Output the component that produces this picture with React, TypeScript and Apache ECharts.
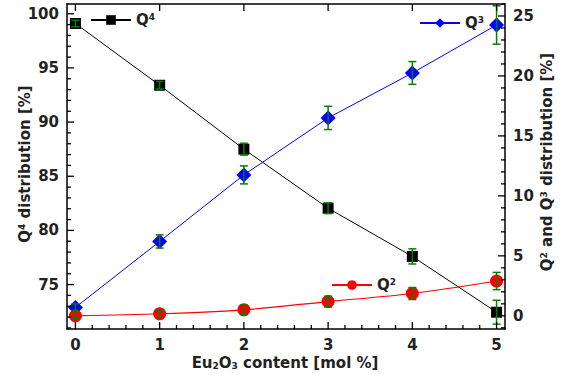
import React, { useEffect, useRef } from 'react';
import * as echarts from 'echarts';

const xValues = [0, 1, 2, 3, 4, 5];
const q4Values = [99.1, 93.4, 87.5, 82.05, 77.6, 72.45];
const q4Errors = [0.3, 0.35, 0.55, 0.5, 0.7, 1.1];
const q3Values = [0.7, 6.2, 11.75, 16.5, 20.25, 24.25];
const q3Errors = [0.3, 0.55, 0.75, 0.97, 0.95, 1.6];
const q2Values = [0.0, 0.17, 0.5, 1.19, 1.86, 2.9];
const q2Errors = [0.2, 0.3, 0.4, 0.45, 0.5, 0.72];

const xTickValues = [0, 1, 2, 3, 4, 5];
const xMinorTickValues = [0.2, 0.4, 0.6, 0.8, 1.2, 1.4, 1.6, 1.8, 2.2, 2.4, 2.6, 2.8, 3.2, 3.4, 3.6, 3.8, 4.2, 4.4, 4.6, 4.8];
const leftTickValues = [75, 80, 85, 90, 95, 100];
const leftMinorTickValues = [71, 72, 73, 74, 76, 77, 78, 79, 81, 82, 83, 84, 86, 87, 88, 89, 91, 92, 93, 94, 96, 97, 98, 99];
const rightTickValues = [0, 5, 10, 15, 20, 25];
const rightMinorTickValues = [-1, 1, 2, 3, 4, 6, 7, 8, 9, 11, 12, 13, 14, 16, 17, 18, 19, 21, 22, 23, 24, 26];

const FONT = 'DejaVu Sans';
const TXT = '#222';
const GREEN = '#008000';
const X_MIN = -0.1, X_MAX = 5.1;
const L_MIN = 70.9, L_MAX = 100.9;
const R_MIN = -1.1, R_MAX = 26;

const supRich = {
  s: { fontSize: 9, fontWeight: 'bold', fontFamily: FONT, color: TXT, padding: [0, 0, 7, 0] },
  b: { fontSize: 9, fontWeight: 'bold', fontFamily: FONT, color: TXT, padding: [6, 0, 0, 0] },
};

function errorSeries(name: string, values: number[], errors: number[], yAxisIndex: number) {
  return {
    type: 'custom',
    name: name + ' error',
    xAxisIndex: 0,
    yAxisIndex,
    z: 10,
    silent: true,
    data: xValues.map((x, i) => [x, values[i] - errors[i], values[i] + errors[i]]),
    encode: { x: 0, y: [1, 2] },
    renderItem: (params: any, api: any) => {
      const x = api.value(0);
      const lo = api.coord([x, api.value(1)]);
      const hi = api.coord([x, api.value(2)]);
      const w = 4;
      const style = { stroke: GREEN, lineWidth: 1.5, fill: 'none' };
      return {
        type: 'group',
        children: [
          { type: 'line', shape: { x1: lo[0], y1: lo[1], x2: hi[0], y2: hi[1] }, style },
          { type: 'line', shape: { x1: lo[0] - w, y1: lo[1], x2: lo[0] + w, y2: lo[1] }, style },
          { type: 'line', shape: { x1: hi[0] - w, y1: hi[1], x2: hi[0] + w, y2: hi[1] }, style },
        ],
      };
    },
  };
}

const titleGraphics = [
  {
    type: 'text', x: 25, y: 164, rotation: Math.PI / 2,
    style: {
      text: 'Q{s|4} distribution [%]', rich: supRich,
      fontFamily: FONT, fontWeight: 'bold', fontSize: 15, fill: TXT,
      align: 'center', verticalAlign: 'middle', textAlign: 'center', textVerticalAlign: 'middle',
    },
  },
  {
    type: 'text', x: 547, y: 162, rotation: Math.PI / 2,
    style: {
      text: 'Q{s|2} and Q{s|3} distribution [%]', rich: supRich,
      fontFamily: FONT, fontWeight: 'bold', fontSize: 15, fill: TXT,
      align: 'center', verticalAlign: 'middle', textAlign: 'center', textVerticalAlign: 'middle',
    },
  },
  {
    type: 'text', x: 285, y: 363,
    style: {
      text: 'Eu{b|2}O{b|3} content [mol %]', rich: supRich,
      fontFamily: FONT, fontWeight: 'bold', fontSize: 15, fill: TXT,
      align: 'center', verticalAlign: 'middle', textAlign: 'center', textVerticalAlign: 'middle',
    },
  },
];

export default function App() {
  const ref = useRef<HTMLDivElement>(null);
  useEffect(() => {
    if (!ref.current) return;
    const chart = echarts.init(ref.current, null, { renderer: 'svg' });
    const axLine = { show: true, onZero: false, lineStyle: { color: '#000', width: 1.5 } };
    const labelStyle = { fontFamily: FONT, fontWeight: 'bold', fontSize: 15, color: TXT };
    const legendBase = {
      padding: 0,
      itemWidth: 40,
      itemHeight: 12,
      selectedMode: false,
      formatter: (name: string) => `{q|Q}{s|${name.slice(1)}}`,
      textStyle: {
        fontFamily: FONT, fontWeight: 'bold', fontSize: 15, color: TXT,
        rich: { q: { fontFamily: FONT, fontWeight: 'bold', fontSize: 15, color: TXT }, s: supRich.s },
      },
    };
    const option: any = {
      animation: false,
      grid: { left: 67, right: 65, top: 4, bottom: 52, containLabel: false },
      xAxis: [
        {
          type: 'value', position: 'bottom', min: X_MIN, max: X_MAX,
          axisLine: axLine,
          axisTick: { show: false },
          axisLabel: { show: true, customValues: xTickValues, margin: 8, ...labelStyle },
          splitLine: { show: false },
        },
        {
          type: 'value', position: 'top', min: X_MIN, max: X_MAX,
          axisLine: axLine,
          axisTick: { show: false },
          axisLabel: { show: false },
          splitLine: { show: false },
        },
      ],
      yAxis: [
        {
          type: 'value', position: 'left', min: L_MIN, max: L_MAX,
          axisLine: axLine,
          axisTick: { show: false },
          axisLabel: { show: true, customValues: leftTickValues, margin: 8, ...labelStyle },
          splitLine: { show: false },
        },
        {
          type: 'value', position: 'right', min: R_MIN, max: R_MAX,
          axisLine: axLine,
          axisTick: { show: false },
          axisLabel: { show: true, customValues: rightTickValues, margin: 8, ...labelStyle },
          splitLine: { show: false },
        },
      ],
      legend: [
        { ...legendBase, data: ['Q4'], left: 90, top: 12 },
        { ...legendBase, data: ['Q3'], left: 419, top: 15 },
        { ...legendBase, data: ['Q2'], left: 331, top: 277 },
      ],
      graphic: titleGraphics,
      series: [
        {
          type: 'line', name: 'Q4', xAxisIndex: 0, yAxisIndex: 0, z: 5,
          data: xValues.map((x, i) => [x, q4Values[i]]),
          symbol: 'rect', symbolSize: 11,
          itemStyle: { color: '#000' },
          lineStyle: { color: '#000', width: 1 },
        },
        {
          type: 'line', name: 'Q3', xAxisIndex: 0, yAxisIndex: 1, z: 5,
          data: xValues.map((x, i) => [x, q3Values[i]]),
          symbol: 'diamond', symbolSize: 15,
          itemStyle: { color: '#0000ff' },
          lineStyle: { color: '#0000ff', width: 1 },
        },
        {
          type: 'line', name: 'Q2', xAxisIndex: 0, yAxisIndex: 1, z: 5,
          data: xValues.map((x, i) => [x, q2Values[i]]),
          symbol: 'circle', symbolSize: 13, smooth: 0.3,
          itemStyle: { color: '#ff0000' },
          lineStyle: { color: '#ff0000', width: 1.2 },
        },
        errorSeries('Q4', q4Values, q4Errors, 0),
        errorSeries('Q3', q3Values, q3Errors, 1),
        errorSeries('Q2', q2Values, q2Errors, 1),
      ],
    };
    chart.setOption(option);

    // Ticks placed through the axes' own scales
    const px = (v: number) => chart.convertToPixel({ xAxisIndex: 0 } as any, v) as number;
    const pyL = (v: number) => chart.convertToPixel({ yAxisIndex: 0 } as any, v) as number;
    const pyR = (v: number) => chart.convertToPixel({ yAxisIndex: 1 } as any, v) as number;
    const left = px(X_MIN), right = px(X_MAX), bottom = pyL(L_MIN), top = pyL(L_MAX);
    const tick = (x1: number, y1: number, x2: number, y2: number) => ({
      type: 'line', z: 100, silent: true,
      shape: { x1, y1, x2, y2 },
      style: { stroke: '#000', lineWidth: 1.3 },
    });
    const ticks: any[] = [];
    xTickValues.forEach((v) => {
      const x = px(v);
      ticks.push(tick(x, bottom, x, bottom - 7));
      ticks.push(tick(x, top, x, top + 7));
    });
    xMinorTickValues.forEach((v) => {
      const x = px(v);
      ticks.push(tick(x, bottom, x, bottom - 4));
    });
    leftTickValues.forEach((v) => { const y = pyL(v); ticks.push(tick(left, y, left + 7, y)); });
    leftMinorTickValues.forEach((v) => { const y = pyL(v); ticks.push(tick(left, y, left + 4, y)); });
    rightTickValues.forEach((v) => { const y = pyR(v); ticks.push(tick(right, y, right - 7, y)); });
    rightMinorTickValues.forEach((v) => { const y = pyR(v); ticks.push(tick(right, y, right - 4, y)); });
    chart.setOption({ graphic: [...titleGraphics, ...ticks] });

    return () => chart.dispose();
  }, []);
  return <div ref={ref} style={{ width: 570, height: 381, position: 'absolute', left: 0, top: 0 }} />;
}
